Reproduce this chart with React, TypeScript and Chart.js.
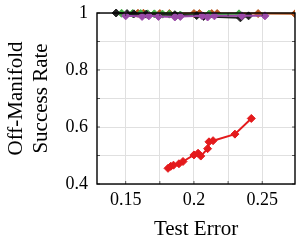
import React, { useEffect, useRef } from "react";
import { Chart, registerables } from "chart.js";

Chart.register(...registerables);

type P = { x: number; y: number };
const pts = (a: number[][]): P[] => a.map(([x, y]) => ({ x, y }));

const xTickValues = [0.15, 0.175, 0.2, 0.225, 0.25];
const xTickLabels = ["0.15", "", "0.2", "", "0.25"];
const yTickValues = [0.4, 0.5, 0.6, 0.7, 0.8, 0.9, 1.0];
const yTickLabels = ["0.4", "", "0.6", "", "0.8", "", "1"];

const redSeries = [
  [0.181, 0.455], [0.183, 0.462], [0.185, 0.466], [0.189, 0.471], [0.192, 0.479],
  [0.2, 0.502], [0.203, 0.508], [0.205, 0.498], [0.21, 0.524], [0.211, 0.548],
  [0.214, 0.552], [0.23, 0.575], [0.242, 0.63],
];
const blackSeries = [
  [0.143, 1.0], [0.151, 0.998], [0.156, 0.997], [0.165, 0.996], [0.186, 0.994],
  [0.202, 0.991], [0.207, 0.988], [0.234, 0.983], [0.24, 0.99],
];
const greenSeries = [
  [0.147, 0.999], [0.155, 0.998], [0.161, 0.998], [0.166, 0.997], [0.171, 0.997],
  [0.177, 0.996], [0.182, 0.996], [0.187, 0.99], [0.19, 0.993], [0.211, 0.996], [0.233, 0.997],
];
const brownSeries = [
  [0.159, 0.999], [0.163, 0.999], [0.175, 0.998], [0.182, 0.998], [0.2, 0.998],
  [0.204, 0.998], [0.213, 0.998], [0.217, 0.998], [0.247, 0.998], [0.274, 0.997],
];
const purpleSeries = [
  [0.15, 0.99], [0.162, 0.988], [0.167, 0.99], [0.174, 0.988], [0.186, 0.986],
  [0.19, 0.988], [0.206, 0.99], [0.21, 0.986], [0.215, 0.99], [0.235, 0.99], [0.252, 0.99],
];

const FONT = "'Liberation Serif', 'Times New Roman', serif";

const framePlugin = {
  id: "frame",
  afterDatasetsDraw(chart: any) {
    const { ctx, chartArea: a, scales } = chart;
    ctx.save();
    ctx.strokeStyle = "#333";
    ctx.lineWidth = 0.8;
    ctx.beginPath();
    xTickValues.forEach((v) => {
      const px = scales.x.getPixelForValue(v);
      ctx.moveTo(px, a.bottom);
      ctx.lineTo(px, a.bottom - 3);
      ctx.moveTo(px, a.top);
      ctx.lineTo(px, a.top + 3);
    });
    yTickValues.forEach((v) => {
      const py = scales.y.getPixelForValue(v);
      ctx.moveTo(a.left, py);
      ctx.lineTo(a.left + 3, py);
      ctx.moveTo(a.right, py);
      ctx.lineTo(a.right - 3, py);
    });
    ctx.stroke();
    ctx.strokeStyle = "#000";
    ctx.lineWidth = 1.4;
    ctx.strokeRect(a.left, a.top, a.right - a.left, a.bottom - a.top);
    ctx.restore();
  },
};

export default function App() {
  const ref = useRef<HTMLCanvasElement | null>(null);
  useEffect(() => {
    if (!ref.current) return;
    const mk = (label: string, data: number[][], color: string, width: number) => ({
      label,
      data: pts(data),
      borderColor: color,
      backgroundColor: color,
      borderWidth: width,
      showLine: true,
      pointStyle: "rectRot" as const,
      pointRadius: 4,
      pointBorderWidth: 1,
      clip: { left: 5, top: 10, right: 0, bottom: 5 } as any,
    });
    const chart = new Chart(ref.current, {
      type: "scatter",
      data: {
        datasets: [
          mk("purple", purpleSeries, "#9b4aa8", 2),
          mk("black", blackSeries, "#222222", 2),
          mk("green", greenSeries, "#44ad44", 2),
          mk("brown", brownSeries, "#b5561f", 2),
          mk("red", redSeries, "#e41a1c", 2),
        ],
      },
      options: {
        animation: false,
        responsive: false,
        layout: { padding: { top: 13, right: 3, left: 0, bottom: 0 } },
        plugins: { legend: { display: false }, tooltip: { enabled: false } },
        scales: {
          x: {
            type: "linear",
            min: 0.129,
            max: 0.274,
            afterBuildTicks: (s: any) => {
              s.ticks = xTickValues.map((v) => ({ value: v }));
            },
            afterFit: (s: any) => {
              s.height = 67;
            },
            ticks: {
              padding: 5,
              color: "#000",
              font: { family: FONT, size: 18 },
              maxRotation: 0,
              autoSkip: false,
              callback: (_v: any, i: number) => xTickLabels[i],
            },
            grid: { color: "#e0e0e0", drawTicks: false },
            border: { display: false },
            title: {
              display: true,
              text: "Test Error",
              color: "#000",
              font: { family: FONT, size: 21 },
              padding: { top: 0, bottom: 9 },
            },
          },
          y: {
            type: "linear",
            min: 0.4,
            max: 1.0,
            afterBuildTicks: (s: any) => {
              s.ticks = yTickValues.map((v) => ({ value: v }));
            },
            afterFit: (s: any) => {
              s.width = 97;
              s.paddingTop = 0;
              s.paddingBottom = 0;
            },
            ticks: {
              padding: 9,
              color: "#000",
              font: { family: FONT, size: 18, lineHeight: 0.5 },
              autoSkip: false,
              callback: (_v: any, i: number) => yTickLabels[i],
            },
            grid: { color: "#e0e0e0", drawTicks: false },
            border: { display: false },
            title: {
              display: true,
              text: ["Off-Manifold", "Success Rate"],
              color: "#000",
              font: { family: FONT, size: 21, lineHeight: 1.2 },
              padding: { top: 4, bottom: 0 },
            },
          },
        },
      },
      plugins: [framePlugin],
    });
    return () => chart.destroy();
  }, []);
  return (
    <div style={{ position: "fixed", left: 0, top: 0, width: 300, height: 251, background: "#fff" }}>
      <canvas ref={ref} width={300} height={251} style={{ width: 300, height: 251 }} />
    </div>
  );
}
